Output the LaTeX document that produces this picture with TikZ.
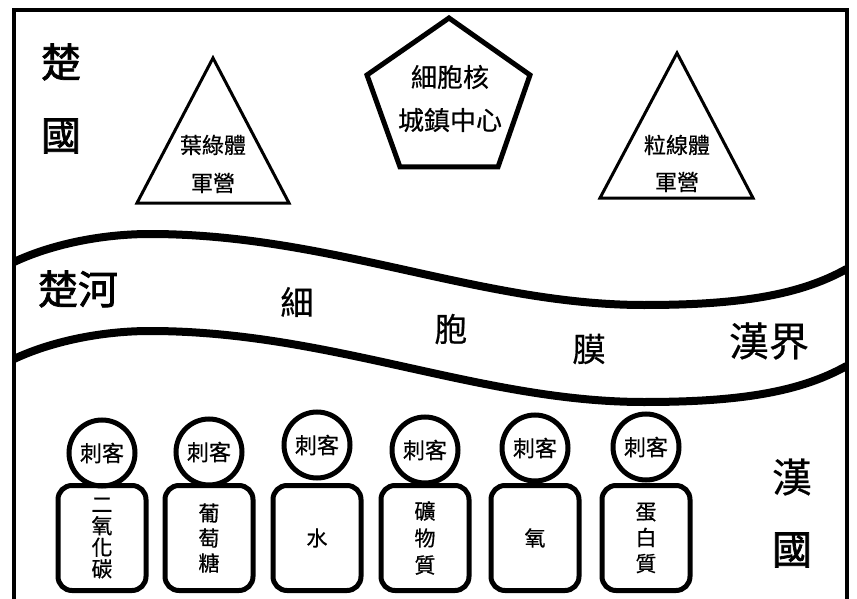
\documentclass[tikz,border=0pt]{standalone}
\usepackage{fontspec}
\setmainfont[FakeBold=0.6]{Noto Sans CJK TC}
\newfontfamily\zhheavy[FakeBold=1.8]{Noto Sans CJK TC}
\usepackage{tikz}
\usetikzlibrary{positioning}
\newcommand{\hugezh}{\fontsize{40}{44}\selectfont}
\newcommand{\midzh}{\fontsize{33}{36}\selectfont}
\newcommand{\capzh}{\fontsize{26}{30}\selectfont}
\newcommand{\tinyzh}{\fontsize{22}{26}\selectfont}

\begin{document}
\begin{tikzpicture}[x=1pt,y=-1pt]
\pgfmathsetmacro{\le}{14}
\pgfmathsetmacro{\ri}{846.5}
\pgfmathsetmacro{\gap}{97}
\pgfmathsetmacro{\boxy}{536}

\useasboundingbox (0,0) rectangle (857,599);

\tikzset{
camp/.style={line width=3,line join=miter},
guard/.style={circle,draw,line width=5,minimum size=66,inner sep=0pt,font=\tinyzh},
cargo/.style={draw,rounded corners=14,line width=5,minimum width=88,minimum height=105,inner sep=0pt,align=center},
}

\draw[line width=4] (\le,605)--(\le,10.5)--(\ri,10.5)--(\ri,605);

\node[font=\zhheavy\hugezh] (chu1) at (61,62) {楚};
\node[font=\zhheavy\hugezh] (guo1) at (61,136) {國};

\draw[camp] (213,58)--(289,203)--(137,203)--cycle;
\node[font=\tinyzh] (chloro) at (213,145) {葉綠體};
\node[font=\tinyzh] (camp1) at (213,183) {軍營};

\draw[line width=5] (449,18)--(530,75)--(498,167)--(400,167)--(367,75)--cycle;
\node[font=\capzh] (nucleus) at (450,77) {細胞核};
\node[font=\capzh] (town) at (450,120) {城鎮中心};

\draw[camp] (677,53)--(753,198)--(600,198)--cycle;
\node[font=\tinyzh] (mito) at (677,145) {粒線體};
\node[font=\tinyzh] (camp2) at (677,182) {軍營};

\def\wave
{(\le,262) .. controls (50,245) and (100,234) .. (150,234)
.. controls (330,234) and (480,305) .. (644,305)
.. controls (740,305) and (800,295) .. (\ri,269)}

\draw[line width=8] \wave;
\begin{scope}[shift={(0,\gap)}]
\draw[line width=8] \wave;
\end{scope}

\node[font=\zhheavy\hugezh] (river) at (78,289) {楚河};
\node[font=\midzh] (m1) at (297,302) {細};
\node[font=\midzh] (m2) at (451,329) {胞};
\node[font=\midzh] (m3) at (589,349) {膜};
\node[font=\hugezh] (border) at (769,341) {漢界};

\foreach \px/\hy/\ls/\load [count=\k] in {
102/453/21.5/{二\\氧\\化\\碳},
209/452/25/{葡\\萄\\糖},
317/445/25/{水},
425/450/27/{礦\\物\\質},
535/448/25/{氧},
646/447/26/{蛋\\白\\質}} {
\node[guard] (spy\k) at (\px,\hy) {刺客};
\node[cargo,font=\fontsize{21}{\ls}\selectfont] (load\k) at (\px,\boxy+2) {\load};
}

\node[font=\hugezh] (han) at (792,477) {漢};
\node[font=\zhheavy\hugezh] (guo2) at (792,550) {國};
\end{tikzpicture}
\end{document}
